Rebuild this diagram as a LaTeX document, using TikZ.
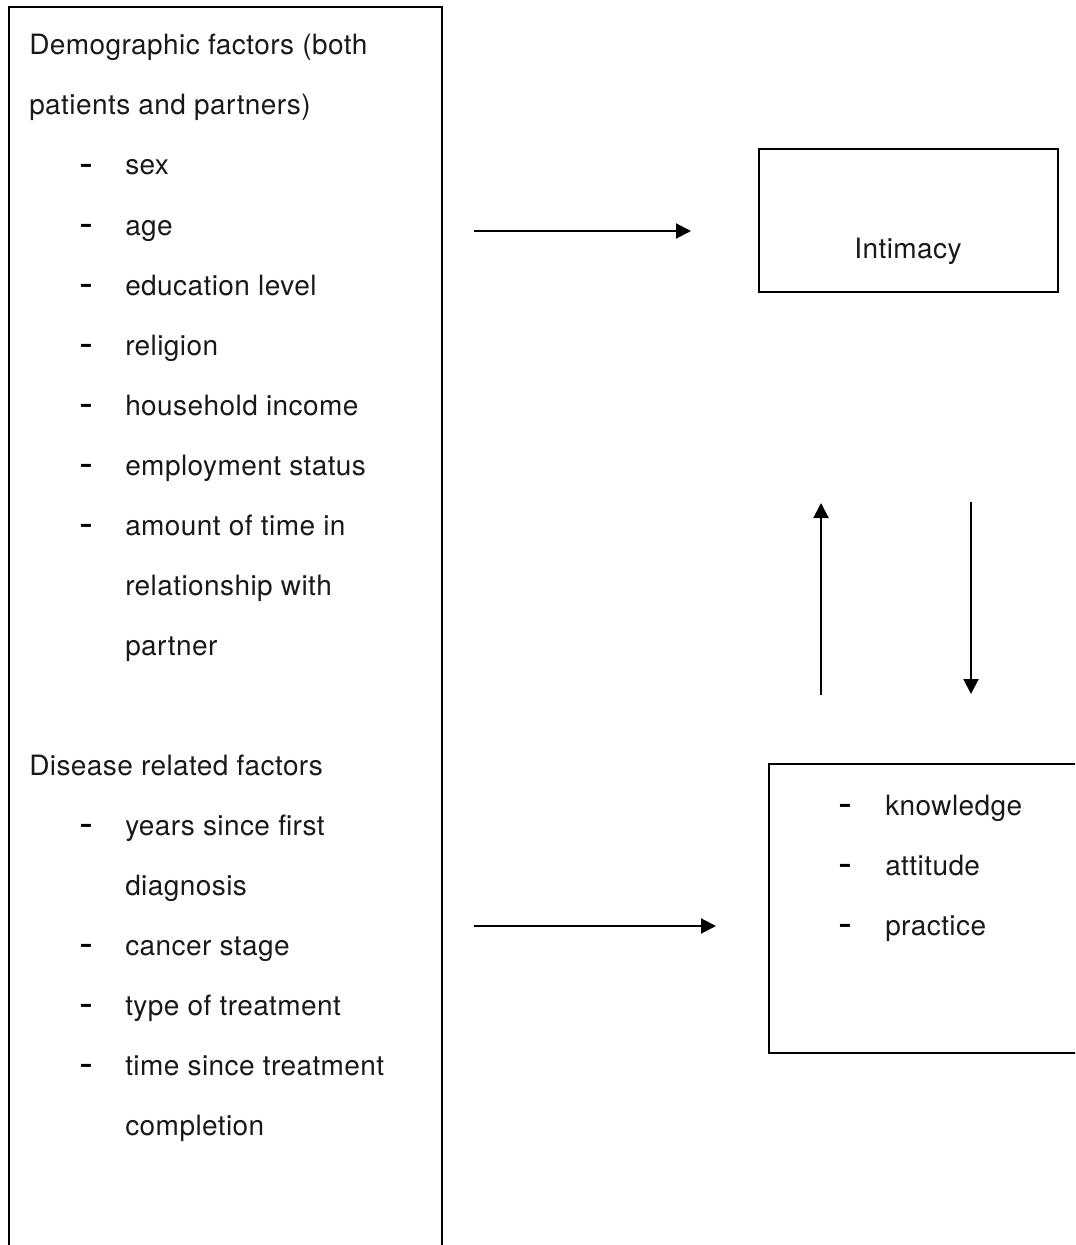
\documentclass[tikz,border=0pt]{standalone}
\usepackage{fontspec}
\setmainfont{TeX Gyre Heros}[LetterSpace=1.5]
\usetikzlibrary{arrows.meta,fit}
\begin{document}
\begin{tikzpicture}[x=0.75pt,y=-0.75pt,
  txt/.style={anchor=base west, inner sep=0pt, text=black!90, font=\fontsize{21pt}{24pt}\selectfont},
  ctxt/.style={anchor=base, inner sep=0pt, text=black!90, font=\fontsize{21pt}{24pt}\selectfont},
  bulletdash/.style={anchor=base west, inner sep=0pt, yshift=-2.5*0.75pt, font=\fontsize{31.5pt}{32pt}\selectfont},
  boxline/.style={draw, line width=1.5pt, inner sep=0pt},
  arr/.style={line width=1.5pt, -{Triangle[length=11.25pt,width=11.25pt]}}]
\useasboundingbox (0,0) rectangle (1075,1245);
\clip (0,0) rectangle (1075,1245);
% boxes
\coordinate (lA) at (9,7);   \coordinate (lB) at (442,1270);
\coordinate (iA) at (759,149); \coordinate (iB) at (1058,292);
\coordinate (kA) at (769,764); \coordinate (kB) at (1095,1053);
\node[boxline, fit=(lA)(lB)] (left) {};
\node[boxline, fit=(iA)(iB)] (intimacy) {};
\node[boxline, fit=(kA)(kB)] (kap) {};
% left column text
\node[txt] (h1) at (29,55) {Demographic factors (both};
\node[txt] (h2) at (29,115) {patients and partners)};
\node[bulletdash] (d1) at (79,175) {-}; \node[txt] (s1) at (125,175) {sex};
\node[bulletdash] (d2) at (79,235) {-}; \node[txt] (s2) at (125,235) {age};
\node[bulletdash] (d3) at (79,295) {-}; \node[txt] (s3) at (125,295) {education level};
\node[bulletdash] (d4) at (79,355) {-}; \node[txt] (s4) at (125,355) {religion};
\node[bulletdash] (d5) at (79,415) {-}; \node[txt] (s5) at (125,415) {household income};
\node[bulletdash] (d6) at (79,475) {-}; \node[txt] (s6) at (125,475) {employment status};
\node[bulletdash] (d7) at (79,535) {-}; \node[txt] (s7) at (125,535) {amount of time in};
\node[txt] (s7b) at (125,595) {relationship with};
\node[txt] (s7c) at (125,655) {partner};
\node[txt] (h3) at (29,775) {Disease related factors};
\node[bulletdash] (e1) at (79,835) {-}; \node[txt] (t1) at (125,835) {years since first};
\node[txt] (t1b) at (125,895) {diagnosis};
\node[bulletdash] (e2) at (79,955) {-}; \node[txt] (t2) at (125,955) {cancer stage};
\node[bulletdash] (e3) at (79,1015) {-}; \node[txt] (t3) at (125,1015) {type of treatment};
\node[bulletdash] (e4) at (79,1075) {-}; \node[txt] (t4) at (125,1075) {time since treatment};
\node[txt] (t4b) at (125,1135) {completion};
% right texts
\node[ctxt] (intimacytxt) at (908,258) {Intimacy};
\node[bulletdash] (f1) at (838,815) {-}; \node[txt] (k1) at (885,815) {knowledge};
\node[bulletdash] (f2) at (838,875) {-}; \node[txt] (k2) at (885,875) {attitude};
\node[bulletdash] (f3) at (838,935) {-}; \node[txt] (k3) at (885,935) {practice};
% arrows
\coordinate (a1s) at (474,231); \coordinate (a1e) at (691,231);
\coordinate (a2s) at (474,926); \coordinate (a2e) at (716,926);
\coordinate (a3s) at (821,695); \coordinate (a3e) at (821,503);
\coordinate (a4s) at (971,502); \coordinate (a4e) at (971,694);
\draw[arr] (a1s) -- (a1e);
\draw[arr] (a2s) -- (a2e);
\draw[arr] (a3s) -- (a3e);
\draw[arr] (a4s) -- (a4e);
\end{tikzpicture}
\end{document}
